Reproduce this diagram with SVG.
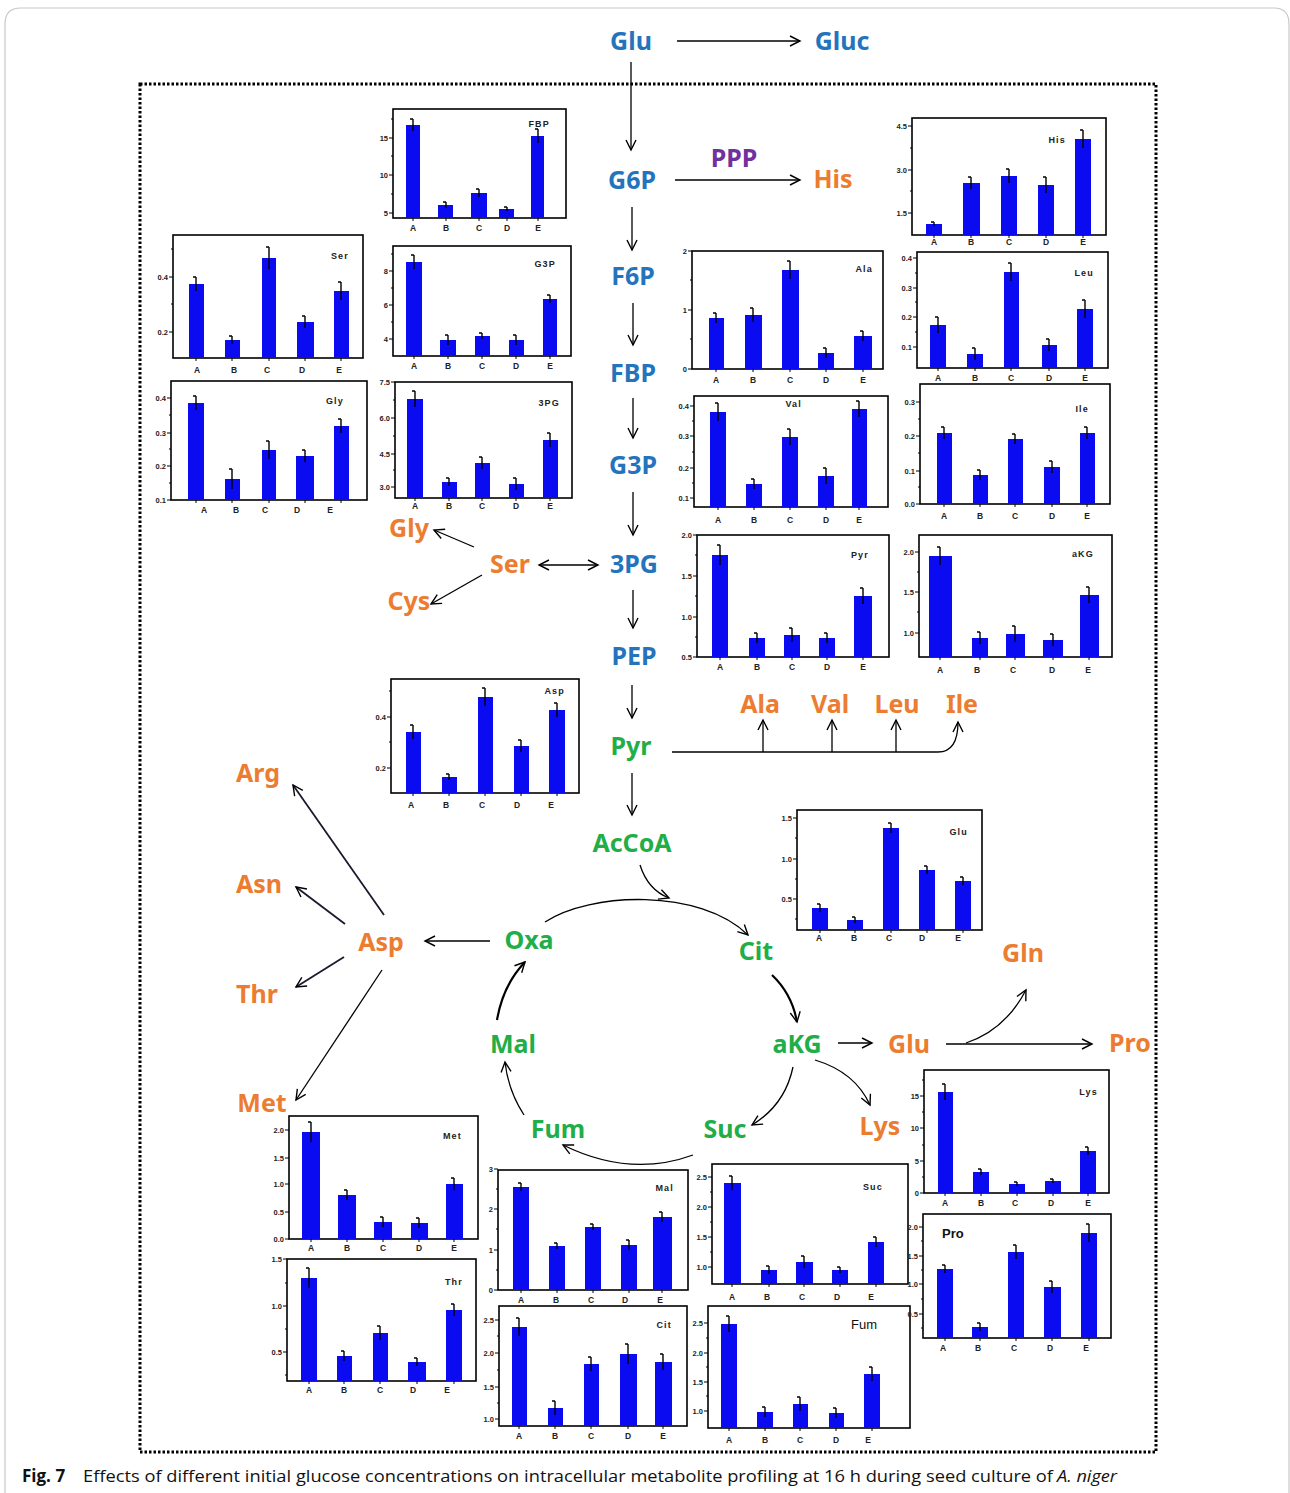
<svg xmlns="http://www.w3.org/2000/svg" width="1290" height="1493" viewBox="0 0 1290 1493">
<style>
.fr{fill:none;stroke:#000;stroke-width:1.6}
.bar{fill:#0b0bf2}
.err{fill:none;stroke:#000;stroke-width:1.4}
.tks{fill:none;stroke:#000;stroke-width:1}
.tk{font-family:"Liberation Sans",Arial,sans-serif;font-weight:bold;font-size:7.5px;text-anchor:end;fill:#222}
.xl{font-family:"Liberation Sans",Arial,sans-serif;font-weight:bold;font-size:8.5px;text-anchor:middle;fill:#222}
.ttl{font-family:"Liberation Sans",Arial,sans-serif;font-weight:bold;font-size:9px;letter-spacing:1.2px;text-anchor:end;fill:#222}
.ttl2{font-family:"Liberation Sans",Arial,sans-serif;font-size:13px;fill:#111}
.lb{font-family:"Noto Sans","Open Sans",sans-serif;font-weight:bold;font-size:25px;text-anchor:middle}
.bl{fill:#2474bd}.or{fill:#ec7c30}.gr{fill:#1fae48}.pu{fill:#7030a0}
.ln{fill:none;stroke:#000;stroke-width:1.3}
.lnm{fill:none;stroke:#1a1a2e;stroke-width:1.8}
.lnb{fill:none;stroke:#000;stroke-width:2.2}
.cap{font-family:"Open Sans","Noto Sans",sans-serif;font-size:17px;fill:#111}
</style>
<defs>
<marker id="ah" markerUnits="userSpaceOnUse" markerWidth="14" markerHeight="14" refX="11" refY="6" orient="auto-start-reverse">
<path d="M1,1 L11,6 L1,11" fill="none" stroke="#000" stroke-width="1.4"/>
</marker>
</defs>
<rect width="1290" height="1493" fill="#fff"/>
<path d="M5,1493 V24 Q5,8 21,8 H1274 Q1289,8 1289,24 V1493" fill="none" stroke="#c8c8c8" stroke-width="1.2"/>
<rect x="140" y="84" width="1016" height="1368" fill="none" stroke="#000" stroke-width="3" stroke-dasharray="2.5 2"/>

<!-- charts -->
<g id="chart-FBP">
<rect class="fr" x="393" y="109" width="173" height="109"/>
<rect class="bar" x="406" y="125" width="14" height="93"/><rect class="bar" x="438" y="205" width="15" height="13"/><rect class="bar" x="471" y="193" width="16" height="25"/><rect class="bar" x="499" y="209" width="15" height="9"/><rect class="bar" x="531" y="136" width="13" height="82"/>
<path class="err" d="M413,119V131M410,119h3M446,202V208M443,202h3M479,189V197M476,189h3M507,207V211M504,207h3M538,129V143M535,129h3"/>
<path class="tks" d="M393,138h-4M393,175h-4M393,213h-4M393,119h-2M393,156h-2M393,194h-2M413,218v3M446,218v3M479,218v3M507,218v3M538,218v3"/>
<text class="tk" x="388" y="141">15</text><text class="tk" x="388" y="178">10</text><text class="tk" x="388" y="216">5</text>
<text class="xl" x="413" y="231">A</text><text class="xl" x="446" y="231">B</text><text class="xl" x="479" y="231">C</text><text class="xl" x="507" y="231">D</text><text class="xl" x="538" y="231">E</text>
<text class="ttl" x="550" y="127">FBP</text>
</g>
<g id="chart-G3P">
<rect class="fr" x="393" y="246" width="178" height="110"/>
<rect class="bar" x="406" y="262" width="16" height="94"/><rect class="bar" x="440" y="340" width="16" height="16"/><rect class="bar" x="475" y="336" width="15" height="20"/><rect class="bar" x="509" y="340" width="15" height="16"/><rect class="bar" x="543" y="299" width="14" height="57"/>
<path class="err" d="M414,255V269M411,255h3M448,335V345M445,335h3M482,333V339M479,333h3M516,335V345M513,335h3M550,295V303M547,295h3"/>
<path class="tks" d="M393,271h-4M393,305h-4M393,339h-4M393,254h-2M393,288h-2M393,322h-2M414,356v3M448,356v3M482,356v3M516,356v3M550,356v3"/>
<text class="tk" x="388" y="274">8</text><text class="tk" x="388" y="308">6</text><text class="tk" x="388" y="342">4</text>
<text class="xl" x="414" y="369">A</text><text class="xl" x="448" y="369">B</text><text class="xl" x="482" y="369">C</text><text class="xl" x="516" y="369">D</text><text class="xl" x="550" y="369">E</text>
<text class="ttl" x="556" y="267">G3P</text>
</g>
<g id="chart-3PG">
<rect class="fr" x="395" y="382" width="177" height="116"/>
<rect class="bar" x="407" y="399" width="16" height="99"/><rect class="bar" x="442" y="482" width="15" height="16"/><rect class="bar" x="475" y="463" width="15" height="35"/><rect class="bar" x="509" y="484" width="15" height="14"/><rect class="bar" x="543" y="440" width="15" height="58"/>
<path class="err" d="M415,391V407M412,391h3M449,478V486M446,478h3M482,457V469M479,457h3M516,478V490M513,478h3M550,433V447M547,433h3"/>
<path class="tks" d="M395,382h-4M395,418h-4M395,454h-4M395,487h-4M395,400h-2M395,436h-2M395,470h-2M415,498v3M449,498v3M482,498v3M516,498v3M550,498v3"/>
<text class="tk" x="390" y="385">7.5</text><text class="tk" x="390" y="421">6.0</text><text class="tk" x="390" y="457">4.5</text><text class="tk" x="390" y="490">3.0</text>
<text class="xl" x="415" y="509">A</text><text class="xl" x="449" y="509">B</text><text class="xl" x="482" y="509">C</text><text class="xl" x="516" y="509">D</text><text class="xl" x="550" y="509">E</text>
<text class="ttl" x="560" y="406">3PG</text>
</g>
<g id="chart-Ser">
<rect class="fr" x="173" y="235" width="190" height="123"/>
<rect class="bar" x="189" y="284" width="15" height="74"/><rect class="bar" x="225" y="340" width="15" height="18"/><rect class="bar" x="262" y="258" width="14" height="100"/><rect class="bar" x="297" y="322" width="17" height="36"/><rect class="bar" x="334" y="291" width="15" height="67"/>
<path class="err" d="M196,277V291M193,277h3M232,336V344M229,336h3M269,247V269M266,247h3M305,316V328M302,316h3M341,282V300M338,282h3"/>
<path class="tks" d="M173,277h-4M173,332h-4M173,249h-2M173,304h-2M196,358v3M232,358v3M269,358v3M305,358v3M341,358v3"/>
<text class="tk" x="168" y="280">0.4</text><text class="tk" x="168" y="335">0.2</text>
<text class="xl" x="197" y="373">A</text><text class="xl" x="234" y="373">B</text><text class="xl" x="267" y="373">C</text><text class="xl" x="302" y="373">D</text><text class="xl" x="339" y="373">E</text>
<text class="ttl" x="349" y="259">Ser</text>
</g>
<g id="chart-Gly">
<rect class="fr" x="171" y="381" width="196" height="119"/>
<rect class="bar" x="188" y="403" width="16" height="97"/><rect class="bar" x="225" y="479" width="15" height="21"/><rect class="bar" x="262" y="450" width="14" height="50"/><rect class="bar" x="296" y="456" width="18" height="44"/><rect class="bar" x="334" y="426" width="15" height="74"/>
<path class="err" d="M196,396V410M193,396h3M232,469V489M229,469h3M269,441V459M266,441h3M305,450V462M302,450h3M341,419V433M338,419h3"/>
<path class="tks" d="M171,398h-4M171,433h-4M171,466h-4M171,500h-4M171,415h-2M171,449h-2M171,483h-2M196,500v3M232,500v3M269,500v3M305,500v3M341,500v3"/>
<text class="tk" x="166" y="401">0.4</text><text class="tk" x="166" y="436">0.3</text><text class="tk" x="166" y="469">0.2</text><text class="tk" x="166" y="503">0.1</text>
<text class="xl" x="204" y="513">A</text><text class="xl" x="236" y="513">B</text><text class="xl" x="265" y="513">C</text><text class="xl" x="297" y="513">D</text><text class="xl" x="330" y="513">E</text>
<text class="ttl" x="344" y="404">Gly</text>
</g>
<g id="chart-His">
<rect class="fr" x="912" y="118" width="194" height="117"/>
<rect class="bar" x="926" y="224" width="16" height="11"/><rect class="bar" x="963" y="183" width="17" height="52"/><rect class="bar" x="1001" y="176" width="16" height="59"/><rect class="bar" x="1038" y="185" width="16" height="50"/><rect class="bar" x="1075" y="139" width="16" height="96"/>
<path class="err" d="M934,222V226M931,222h3M971,177V189M968,177h3M1009,169V183M1006,169h3M1046,177V193M1043,177h3M1083,130V148M1080,130h3"/>
<path class="tks" d="M912,126h-4M912,170h-4M912,213h-4M912,148h-2M912,191h-2M934,235v3M971,235v3M1009,235v3M1046,235v3M1083,235v3"/>
<text class="tk" x="907" y="129">4.5</text><text class="tk" x="907" y="173">3.0</text><text class="tk" x="907" y="216">1.5</text>
<text class="xl" x="934" y="245">A</text><text class="xl" x="971" y="245">B</text><text class="xl" x="1009" y="245">C</text><text class="xl" x="1046" y="245">D</text><text class="xl" x="1083" y="245">E</text>
<text class="ttl" x="1066" y="143">His</text>
</g>
<g id="chart-Leu">
<rect class="fr" x="917" y="252" width="191" height="116"/>
<rect class="bar" x="930" y="325" width="16" height="43"/><rect class="bar" x="967" y="354" width="16" height="14"/><rect class="bar" x="1004" y="272" width="15" height="96"/><rect class="bar" x="1042" y="345" width="15" height="23"/><rect class="bar" x="1077" y="309" width="16" height="59"/>
<path class="err" d="M938,317V333M935,317h3M975,348V360M972,348h3M1011,263V281M1008,263h3M1049,339V351M1046,339h3M1085,300V318M1082,300h3"/>
<path class="tks" d="M917,258h-4M917,288h-4M917,317h-4M917,347h-4M917,273h-2M917,302h-2M917,332h-2M938,368v3M975,368v3M1011,368v3M1049,368v3M1085,368v3"/>
<text class="tk" x="912" y="261">0.4</text><text class="tk" x="912" y="291">0.3</text><text class="tk" x="912" y="320">0.2</text><text class="tk" x="912" y="350">0.1</text>
<text class="xl" x="938" y="381">A</text><text class="xl" x="975" y="381">B</text><text class="xl" x="1011" y="381">C</text><text class="xl" x="1049" y="381">D</text><text class="xl" x="1085" y="381">E</text>
<text class="ttl" x="1094" y="276">Leu</text>
</g>
<g id="chart-Ile">
<rect class="fr" x="920" y="384" width="190" height="120"/>
<rect class="bar" x="937" y="433" width="15" height="71"/><rect class="bar" x="973" y="475" width="15" height="29"/><rect class="bar" x="1008" y="439" width="15" height="65"/><rect class="bar" x="1044" y="467" width="16" height="37"/><rect class="bar" x="1080" y="433" width="15" height="71"/>
<path class="err" d="M944,427V439M941,427h3M980,470V480M977,470h3M1015,434V444M1012,434h3M1052,461V473M1049,461h3M1087,427V439M1084,427h3"/>
<path class="tks" d="M920,402h-4M920,436h-4M920,471h-4M920,504h-4M920,419h-2M920,453h-2M920,487h-2M944,504v3M980,504v3M1015,504v3M1052,504v3M1087,504v3"/>
<text class="tk" x="915" y="405">0.3</text><text class="tk" x="915" y="439">0.2</text><text class="tk" x="915" y="474">0.1</text><text class="tk" x="915" y="507">0.0</text>
<text class="xl" x="944" y="519">A</text><text class="xl" x="980" y="519">B</text><text class="xl" x="1015" y="519">C</text><text class="xl" x="1052" y="519">D</text><text class="xl" x="1087" y="519">E</text>
<text class="ttl" x="1089" y="412">Ile</text>
</g>
<g id="chart-aKG">
<rect class="fr" x="919" y="535" width="193" height="122"/>
<rect class="bar" x="929" y="556" width="23" height="101"/><rect class="bar" x="972" y="638" width="16" height="19"/><rect class="bar" x="1006" y="634" width="19" height="23"/><rect class="bar" x="1043" y="640" width="20" height="17"/><rect class="bar" x="1080" y="595" width="19" height="62"/>
<path class="err" d="M940,547V565M937,547h3M980,632V644M977,632h3M1015,626V642M1012,626h3M1053,634V646M1050,634h3M1089,587V603M1086,587h3"/>
<path class="tks" d="M919,552h-4M919,592h-4M919,633h-4M919,572h-2M919,612h-2M940,657v3M980,657v3M1015,657v3M1053,657v3M1089,657v3"/>
<text class="tk" x="914" y="555">2.0</text><text class="tk" x="914" y="595">1.5</text><text class="tk" x="914" y="636">1.0</text>
<text class="xl" x="940" y="673">A</text><text class="xl" x="977" y="673">B</text><text class="xl" x="1013" y="673">C</text><text class="xl" x="1052" y="673">D</text><text class="xl" x="1088" y="673">E</text>
<text class="ttl" x="1094" y="557">aKG</text>
</g>
<g id="chart-Ala">
<rect class="fr" x="692" y="251" width="191" height="118"/>
<rect class="bar" x="709" y="318" width="15" height="51"/><rect class="bar" x="745" y="315" width="17" height="54"/><rect class="bar" x="782" y="270" width="17" height="99"/><rect class="bar" x="818" y="353" width="16" height="16"/><rect class="bar" x="854" y="336" width="18" height="33"/>
<path class="err" d="M716,313V323M713,313h3M753,308V322M750,308h3M790,261V279M787,261h3M826,348V358M823,348h3M863,331V341M860,331h3"/>
<path class="tks" d="M692,251h-4M692,310h-4M692,369h-4M692,280h-2M692,339h-2M716,369v3M753,369v3M790,369v3M826,369v3M863,369v3"/>
<text class="tk" x="687" y="254">2</text><text class="tk" x="687" y="313">1</text><text class="tk" x="687" y="372">0</text>
<text class="xl" x="716" y="383">A</text><text class="xl" x="753" y="383">B</text><text class="xl" x="790" y="383">C</text><text class="xl" x="826" y="383">D</text><text class="xl" x="863" y="383">E</text>
<text class="ttl" x="873" y="272">Ala</text>
</g>
<g id="chart-Val">
<rect class="fr" x="694" y="396" width="194" height="111"/>
<rect class="bar" x="710" y="412" width="16" height="95"/><rect class="bar" x="746" y="484" width="16" height="23"/><rect class="bar" x="782" y="437" width="16" height="70"/><rect class="bar" x="818" y="476" width="16" height="31"/><rect class="bar" x="852" y="409" width="15" height="98"/>
<path class="err" d="M718,403V421M715,403h3M754,479V489M751,479h3M790,429V445M787,429h3M826,468V484M823,468h3M859,401V417M856,401h3"/>
<path class="tks" d="M694,406h-4M694,436h-4M694,468h-4M694,498h-4M694,421h-2M694,452h-2M694,483h-2M718,507v3M754,507v3M790,507v3M826,507v3M859,507v3"/>
<text class="tk" x="689" y="409">0.4</text><text class="tk" x="689" y="439">0.3</text><text class="tk" x="689" y="471">0.2</text><text class="tk" x="689" y="501">0.1</text>
<text class="xl" x="718" y="523">A</text><text class="xl" x="754" y="523">B</text><text class="xl" x="790" y="523">C</text><text class="xl" x="826" y="523">D</text><text class="xl" x="859" y="523">E</text>
<text class="ttl" x="802" y="407">Val</text>
</g>
<g id="chart-Pyr">
<rect class="fr" x="697" y="535" width="192" height="122"/>
<rect class="bar" x="712" y="555" width="16" height="102"/><rect class="bar" x="749" y="638" width="16" height="19"/><rect class="bar" x="784" y="635" width="16" height="22"/><rect class="bar" x="819" y="638" width="16" height="19"/><rect class="bar" x="854" y="596" width="18" height="61"/>
<path class="err" d="M720,545V565M717,545h3M757,633V643M754,633h3M792,628V642M789,628h3M827,633V643M824,633h3M863,588V604M860,588h3"/>
<path class="tks" d="M697,535h-4M697,576h-4M697,617h-4M697,657h-4M697,555h-2M697,596h-2M697,637h-2M720,657v3M757,657v3M792,657v3M827,657v3M863,657v3"/>
<text class="tk" x="692" y="538">2.0</text><text class="tk" x="692" y="579">1.5</text><text class="tk" x="692" y="620">1.0</text><text class="tk" x="692" y="660">0.5</text>
<text class="xl" x="720" y="670">A</text><text class="xl" x="757" y="670">B</text><text class="xl" x="792" y="670">C</text><text class="xl" x="827" y="670">D</text><text class="xl" x="863" y="670">E</text>
<text class="ttl" x="869" y="558">Pyr</text>
</g>
<g id="chart-Asp">
<rect class="fr" x="391" y="679" width="188" height="114"/>
<rect class="bar" x="406" y="732" width="15" height="61"/><rect class="bar" x="442" y="777" width="15" height="16"/><rect class="bar" x="478" y="697" width="15" height="96"/><rect class="bar" x="514" y="746" width="15" height="47"/><rect class="bar" x="549" y="710" width="16" height="83"/>
<path class="err" d="M413,725V739M410,725h3M449,774V780M446,774h3M485,688V706M482,688h3M521,740V752M518,740h3M557,703V717M554,703h3"/>
<path class="tks" d="M391,717h-4M391,768h-4M391,691h-2M391,742h-2M413,793v3M449,793v3M485,793v3M521,793v3M557,793v3"/>
<text class="tk" x="386" y="720">0.4</text><text class="tk" x="386" y="771">0.2</text>
<text class="xl" x="411" y="808">A</text><text class="xl" x="446" y="808">B</text><text class="xl" x="482" y="808">C</text><text class="xl" x="517" y="808">D</text><text class="xl" x="551" y="808">E</text>
<text class="ttl" x="565" y="694">Asp</text>
</g>
<g id="chart-Glu">
<rect class="fr" x="797" y="810" width="185" height="120"/>
<rect class="bar" x="812" y="908" width="16" height="22"/><rect class="bar" x="847" y="920" width="16" height="10"/><rect class="bar" x="883" y="828" width="16" height="102"/><rect class="bar" x="919" y="870" width="16" height="60"/><rect class="bar" x="955" y="881" width="16" height="49"/>
<path class="err" d="M820,904V912M817,904h3M855,917V923M852,917h3M891,823V833M888,823h3M927,866V874M924,866h3M963,877V885M960,877h3"/>
<path class="tks" d="M797,818h-4M797,859h-4M797,899h-4M797,838h-2M797,879h-2M797,919h-2M820,930v3M855,930v3M891,930v3M927,930v3M963,930v3"/>
<text class="tk" x="792" y="821">1.5</text><text class="tk" x="792" y="862">1.0</text><text class="tk" x="792" y="902">0.5</text>
<text class="xl" x="819" y="941">A</text><text class="xl" x="854" y="941">B</text><text class="xl" x="889" y="941">C</text><text class="xl" x="922" y="941">D</text><text class="xl" x="958" y="941">E</text>
<text class="ttl" x="968" y="835">Glu</text>
</g>
<g id="chart-Met">
<rect class="fr" x="289" y="1116" width="189" height="123"/>
<rect class="bar" x="302" y="1132" width="18" height="107"/><rect class="bar" x="338" y="1195" width="18" height="44"/><rect class="bar" x="374" y="1222" width="18" height="17"/><rect class="bar" x="411" y="1223" width="17" height="16"/><rect class="bar" x="446" y="1184" width="17" height="55"/>
<path class="err" d="M311,1122V1142M308,1122h3M347,1190V1200M344,1190h3M383,1217V1227M380,1217h3M419,1218V1228M416,1218h3M454,1178V1190M451,1178h3"/>
<path class="tks" d="M289,1130h-4M289,1158h-4M289,1184h-4M289,1212h-4M289,1239h-4M311,1239v3M347,1239v3M383,1239v3M419,1239v3M454,1239v3"/>
<text class="tk" x="284" y="1133">2.0</text><text class="tk" x="284" y="1161">1.5</text><text class="tk" x="284" y="1187">1.0</text><text class="tk" x="284" y="1215">0.5</text><text class="tk" x="284" y="1242">0.0</text>
<text class="xl" x="311" y="1251">A</text><text class="xl" x="347" y="1251">B</text><text class="xl" x="383" y="1251">C</text><text class="xl" x="419" y="1251">D</text><text class="xl" x="454" y="1251">E</text>
<text class="ttl" x="462" y="1139">Met</text>
</g>
<g id="chart-Thr">
<rect class="fr" x="287" y="1259" width="189" height="122"/>
<rect class="bar" x="301" y="1278" width="16" height="103"/><rect class="bar" x="337" y="1356" width="15" height="25"/><rect class="bar" x="373" y="1333" width="15" height="48"/><rect class="bar" x="408" y="1362" width="18" height="19"/><rect class="bar" x="446" y="1310" width="16" height="71"/>
<path class="err" d="M309,1268V1288M306,1268h3M344,1351V1361M341,1351h3M380,1326V1340M377,1326h3M417,1358V1366M414,1358h3M454,1304V1316M451,1304h3"/>
<path class="tks" d="M287,1259h-4M287,1306h-4M287,1352h-4M287,1283h-2M287,1329h-2M287,1375h-2M309,1381v3M344,1381v3M380,1381v3M417,1381v3M454,1381v3"/>
<text class="tk" x="282" y="1262">1.5</text><text class="tk" x="282" y="1309">1.0</text><text class="tk" x="282" y="1355">0.5</text>
<text class="xl" x="309" y="1393">A</text><text class="xl" x="344" y="1393">B</text><text class="xl" x="380" y="1393">C</text><text class="xl" x="413" y="1393">D</text><text class="xl" x="447" y="1393">E</text>
<text class="ttl" x="463" y="1285">Thr</text>
</g>
<g id="chart-Mal">
<rect class="fr" x="498" y="1170" width="190" height="120"/>
<rect class="bar" x="513" y="1187" width="16" height="103"/><rect class="bar" x="549" y="1246" width="16" height="44"/><rect class="bar" x="585" y="1227" width="16" height="63"/><rect class="bar" x="621" y="1245" width="16" height="45"/><rect class="bar" x="653" y="1217" width="19" height="73"/>
<path class="err" d="M521,1183V1191M518,1183h3M557,1243V1249M554,1243h3M593,1224V1230M590,1224h3M629,1240V1250M626,1240h3M662,1212V1222M659,1212h3"/>
<path class="tks" d="M498,1169h-4M498,1209h-4M498,1250h-4M498,1290h-4M498,1189h-2M498,1229h-2M498,1270h-2M521,1290v3M557,1290v3M593,1290v3M629,1290v3M662,1290v3"/>
<text class="tk" x="493" y="1172">3</text><text class="tk" x="493" y="1212">2</text><text class="tk" x="493" y="1253">1</text><text class="tk" x="493" y="1293">0</text>
<text class="xl" x="521" y="1303">A</text><text class="xl" x="556" y="1303">B</text><text class="xl" x="591" y="1303">C</text><text class="xl" x="625" y="1303">D</text><text class="xl" x="660" y="1303">E</text>
<text class="ttl" x="674" y="1191">Mal</text>
</g>
<g id="chart-Cit">
<rect class="fr" x="499" y="1306" width="188" height="120"/>
<rect class="bar" x="512" y="1327" width="15" height="99"/><rect class="bar" x="548" y="1408" width="15" height="18"/><rect class="bar" x="584" y="1364" width="15" height="62"/><rect class="bar" x="620" y="1354" width="17" height="72"/><rect class="bar" x="655" y="1362" width="17" height="64"/>
<path class="err" d="M519,1318V1336M516,1318h3M555,1401V1415M552,1401h3M591,1357V1371M588,1357h3M628,1344V1364M625,1344h3M663,1354V1370M660,1354h3"/>
<path class="tks" d="M499,1320h-4M499,1353h-4M499,1387h-4M499,1419h-4M499,1336h-2M499,1370h-2M499,1403h-2M519,1426v3M555,1426v3M591,1426v3M628,1426v3M663,1426v3"/>
<text class="tk" x="494" y="1323">2.5</text><text class="tk" x="494" y="1356">2.0</text><text class="tk" x="494" y="1390">1.5</text><text class="tk" x="494" y="1422">1.0</text>
<text class="xl" x="519" y="1439">A</text><text class="xl" x="555" y="1439">B</text><text class="xl" x="591" y="1439">C</text><text class="xl" x="628" y="1439">D</text><text class="xl" x="663" y="1439">E</text>
<text class="ttl" x="672" y="1328">Cit</text>
</g>
<g id="chart-Suc">
<rect class="fr" x="712" y="1164" width="196" height="120"/>
<rect class="bar" x="724" y="1183" width="17" height="101"/><rect class="bar" x="761" y="1270" width="16" height="14"/><rect class="bar" x="796" y="1262" width="17" height="22"/><rect class="bar" x="832" y="1270" width="16" height="14"/><rect class="bar" x="868" y="1242" width="16" height="42"/>
<path class="err" d="M732,1176V1190M729,1176h3M769,1266V1274M766,1266h3M804,1256V1268M801,1256h3M840,1267V1273M837,1267h3M876,1237V1247M873,1237h3"/>
<path class="tks" d="M712,1177h-4M712,1207h-4M712,1237h-4M712,1267h-4M712,1192h-2M712,1222h-2M712,1252h-2M732,1284v3M769,1284v3M804,1284v3M840,1284v3M876,1284v3"/>
<text class="tk" x="707" y="1180">2.5</text><text class="tk" x="707" y="1210">2.0</text><text class="tk" x="707" y="1240">1.5</text><text class="tk" x="707" y="1270">1.0</text>
<text class="xl" x="732" y="1300">A</text><text class="xl" x="767" y="1300">B</text><text class="xl" x="802" y="1300">C</text><text class="xl" x="837" y="1300">D</text><text class="xl" x="871" y="1300">E</text>
<text class="ttl" x="883" y="1190">Suc</text>
</g>
<g id="chart-Fum">
<rect class="fr" x="708" y="1306" width="202" height="122"/>
<rect class="bar" x="721" y="1324" width="16" height="104"/><rect class="bar" x="757" y="1412" width="16" height="16"/><rect class="bar" x="793" y="1404" width="15" height="24"/><rect class="bar" x="829" y="1413" width="15" height="15"/><rect class="bar" x="864" y="1374" width="16" height="54"/>
<path class="err" d="M729,1316V1332M726,1316h3M765,1407V1417M762,1407h3M800,1397V1411M797,1397h3M836,1408V1418M833,1408h3M872,1367V1381M869,1367h3"/>
<path class="tks" d="M708,1323h-4M708,1353h-4M708,1382h-4M708,1411h-4M708,1338h-2M708,1367h-2M708,1396h-2M729,1428v3M765,1428v3M800,1428v3M836,1428v3M872,1428v3"/>
<text class="tk" x="703" y="1326">2.5</text><text class="tk" x="703" y="1356">2.0</text><text class="tk" x="703" y="1385">1.5</text><text class="tk" x="703" y="1414">1.0</text>
<text class="xl" x="729" y="1443">A</text><text class="xl" x="765" y="1443">B</text><text class="xl" x="800" y="1443">C</text><text class="xl" x="836" y="1443">D</text><text class="xl" x="868" y="1443">E</text>
<text class="ttl2" x="851" y="1329">Fum</text>
</g>
<g id="chart-Lys">
<rect class="fr" x="924" y="1070" width="185" height="123"/>
<rect class="bar" x="938" y="1092" width="15" height="101"/><rect class="bar" x="973" y="1172" width="16" height="21"/><rect class="bar" x="1009" y="1184" width="16" height="9"/><rect class="bar" x="1045" y="1181" width="16" height="12"/><rect class="bar" x="1080" y="1151" width="16" height="42"/>
<path class="err" d="M945,1084V1100M942,1084h3M981,1169V1175M978,1169h3M1017,1182V1186M1014,1182h3M1053,1179V1183M1050,1179h3M1088,1147V1155M1085,1147h3"/>
<path class="tks" d="M924,1096h-4M924,1128h-4M924,1161h-4M924,1193h-4M924,1080h-2M924,1112h-2M924,1145h-2M924,1177h-2M945,1193v3M981,1193v3M1017,1193v3M1053,1193v3M1088,1193v3"/>
<text class="tk" x="919" y="1099">15</text><text class="tk" x="919" y="1131">10</text><text class="tk" x="919" y="1164">5</text><text class="tk" x="919" y="1196">0</text>
<text class="xl" x="945" y="1206">A</text><text class="xl" x="981" y="1206">B</text><text class="xl" x="1015" y="1206">C</text><text class="xl" x="1051" y="1206">D</text><text class="xl" x="1088" y="1206">E</text>
<text class="ttl" x="1098" y="1095">Lys</text>
</g>
<g id="chart-Pro">
<rect class="fr" x="923" y="1214" width="188" height="124"/>
<rect class="bar" x="937" y="1269" width="16" height="69"/><rect class="bar" x="972" y="1327" width="16" height="11"/><rect class="bar" x="1008" y="1252" width="16" height="86"/><rect class="bar" x="1044" y="1287" width="17" height="51"/><rect class="bar" x="1081" y="1233" width="16" height="105"/>
<path class="err" d="M945,1265V1273M942,1265h3M980,1323V1331M977,1323h3M1016,1245V1259M1013,1245h3M1052,1281V1293M1049,1281h3M1089,1224V1242M1086,1224h3"/>
<path class="tks" d="M923,1227h-4M923,1256h-4M923,1284h-4M923,1314h-4M923,1241h-2M923,1270h-2M923,1299h-2M923,1328h-2M945,1338v3M980,1338v3M1016,1338v3M1052,1338v3M1089,1338v3"/>
<text class="tk" x="918" y="1230">2.0</text><text class="tk" x="918" y="1259">1.5</text><text class="tk" x="918" y="1287">1.0</text><text class="tk" x="918" y="1317">0.5</text>
<text class="xl" x="943" y="1351">A</text><text class="xl" x="978" y="1351">B</text><text class="xl" x="1014" y="1351">C</text><text class="xl" x="1050" y="1351">D</text><text class="xl" x="1086" y="1351">E</text>
<text class="ttl2" x="942" y="1238" font-weight="bold">Pro</text>
</g>

<!-- connectors -->
<g id="connectors">
<path class="ln" d="M677,41 H800" marker-end="url(#ah)"/>
<path class="ln" d="M631,62 V150" marker-end="url(#ah)"/>
<path class="ln" d="M675,180 H800" marker-end="url(#ah)"/>
<path class="ln" d="M632,207 V250" marker-end="url(#ah)"/>
<path class="ln" d="M633,303 V345" marker-end="url(#ah)"/>
<path class="ln" d="M633,398 V438" marker-end="url(#ah)"/>
<path class="ln" d="M633,492 V535" marker-end="url(#ah)"/>
<path class="ln" d="M539,565 H598" marker-start="url(#ah)" marker-end="url(#ah)"/>
<path class="ln" d="M633,590 V628" marker-end="url(#ah)"/>
<path class="ln" d="M632,685 V718" marker-end="url(#ah)"/>
<path class="ln" d="M632,773 V815" marker-end="url(#ah)"/>
<path class="ln" d="M474,547 L434,530" marker-end="url(#ah)"/>
<path class="ln" d="M482,575 L431,604" marker-end="url(#ah)"/>
<path class="ln" d="M672,752 H938 Q958,752 958,722" marker-end="url(#ah)"/>
<path class="ln" d="M763,752 V720" marker-end="url(#ah)"/>
<path class="ln" d="M832,752 V720" marker-end="url(#ah)"/>
<path class="ln" d="M896,752 V720" marker-end="url(#ah)"/>
<path class="ln" d="M640,865 Q648,890 669,898" marker-end="url(#ah)"/>
<path class="ln" d="M545,922 C590,892 700,888 748,935" marker-end="url(#ah)"/>
<path class="lnb" d="M772,975 Q792,994 797,1022" marker-end="url(#ah)"/>
<path class="ln" d="M793,1067 Q785,1105 752,1125" marker-end="url(#ah)"/>
<path class="ln" d="M693,1155 Q630,1178 563,1145" marker-end="url(#ah)"/>
<path class="ln" d="M524,1115 Q508,1090 505,1062" marker-end="url(#ah)"/>
<path class="lnb" d="M497,1020 Q503,985 525,962" marker-end="url(#ah)"/>
<path class="ln" d="M490,941 H425" marker-end="url(#ah)"/>
<path class="lnm" d="M384,915 L293,785" marker-end="url(#ah)"/>
<path class="lnm" d="M345,924 L296,887" marker-end="url(#ah)"/>
<path class="lnm" d="M344,957 L296,987" marker-end="url(#ah)"/>
<path class="ln" d="M382,970 L296,1100" marker-end="url(#ah)"/>
<path class="ln" d="M838,1043 H872" marker-end="url(#ah)"/>
<path class="ln" d="M946,1044 H1092" marker-end="url(#ah)"/>
<path class="ln" d="M966,1043 Q1005,1030 1026,990" marker-end="url(#ah)"/>
<path class="ln" d="M815,1060 Q855,1072 870,1105" marker-end="url(#ah)"/>
</g>

<!-- nodes -->
<g id="n-Glu"><text class="lb bl" x="631" y="50">Glu</text></g>
<g id="n-Gluc"><text class="lb bl" x="842" y="50">Gluc</text></g>
<g id="n-G6P"><text class="lb bl" x="632" y="189">G6P</text></g>
<g id="n-PPP"><text class="lb pu" x="734" y="167" font-size="27">PPP</text></g>
<g id="n-His"><text class="lb or" x="833" y="188">His</text></g>
<g id="n-F6P"><text class="lb bl" x="633" y="285">F6P</text></g>
<g id="n-FBP"><text class="lb bl" x="633" y="382">FBP</text></g>
<g id="n-G3P"><text class="lb bl" x="633" y="474">G3P</text></g>
<g id="n-3PG"><text class="lb bl" x="634" y="573">3PG</text></g>
<g id="n-PEP"><text class="lb bl" x="634" y="665">PEP</text></g>
<g id="n-Pyr"><text class="lb gr" x="631" y="755">Pyr</text></g>
<g id="n-AcCoA"><text class="lb gr" x="632" y="852">AcCoA</text></g>
<g id="n-Gly"><text class="lb or" x="409" y="537">Gly</text></g>
<g id="n-Ser"><text class="lb or" x="510" y="573">Ser</text></g>
<g id="n-Cys"><text class="lb or" x="409" y="610">Cys</text></g>
<g id="n-Ala"><text class="lb or" x="760" y="713">Ala</text></g>
<g id="n-Val"><text class="lb or" x="830" y="713">Val</text></g>
<g id="n-Leu"><text class="lb or" x="897" y="713">Leu</text></g>
<g id="n-Ile"><text class="lb or" x="962" y="713">Ile</text></g>
<g id="n-Arg"><text class="lb or" x="258" y="782">Arg</text></g>
<g id="n-Asn"><text class="lb or" x="259" y="893">Asn</text></g>
<g id="n-Asp"><text class="lb or" x="381" y="951">Asp</text></g>
<g id="n-Thr"><text class="lb or" x="257" y="1003">Thr</text></g>
<g id="n-Met"><text class="lb or" x="262" y="1112">Met</text></g>
<g id="n-Oxa"><text class="lb gr" x="529" y="949">Oxa</text></g>
<g id="n-Cit"><text class="lb gr" x="756" y="960">Cit</text></g>
<g id="n-aKG"><text class="lb gr" x="797" y="1053">aKG</text></g>
<g id="n-Mal"><text class="lb gr" x="513" y="1053">Mal</text></g>
<g id="n-Fum"><text class="lb gr" x="558" y="1138">Fum</text></g>
<g id="n-Suc"><text class="lb gr" x="725" y="1138">Suc</text></g>
<g id="n-Glu2"><text class="lb or" x="909" y="1053">Glu</text></g>
<g id="n-Gln"><text class="lb or" x="1023" y="962">Gln</text></g>
<g id="n-Pro"><text class="lb or" x="1130" y="1052">Pro</text></g>
<g id="n-Lys"><text class="lb or" x="880" y="1135">Lys</text></g>

<text class="cap" x="22" y="1482"><tspan font-weight="bold">Fig. 7</tspan></text>
<text class="cap" x="83" y="1482" textLength="970" lengthAdjust="spacingAndGlyphs">Effects of different initial glucose concentrations on intracellular metabolite profiling at 16 h during seed culture of</text>
<text class="cap" x="1057" y="1482" font-style="italic" textLength="60" lengthAdjust="spacingAndGlyphs">A. niger</text>
</svg>
